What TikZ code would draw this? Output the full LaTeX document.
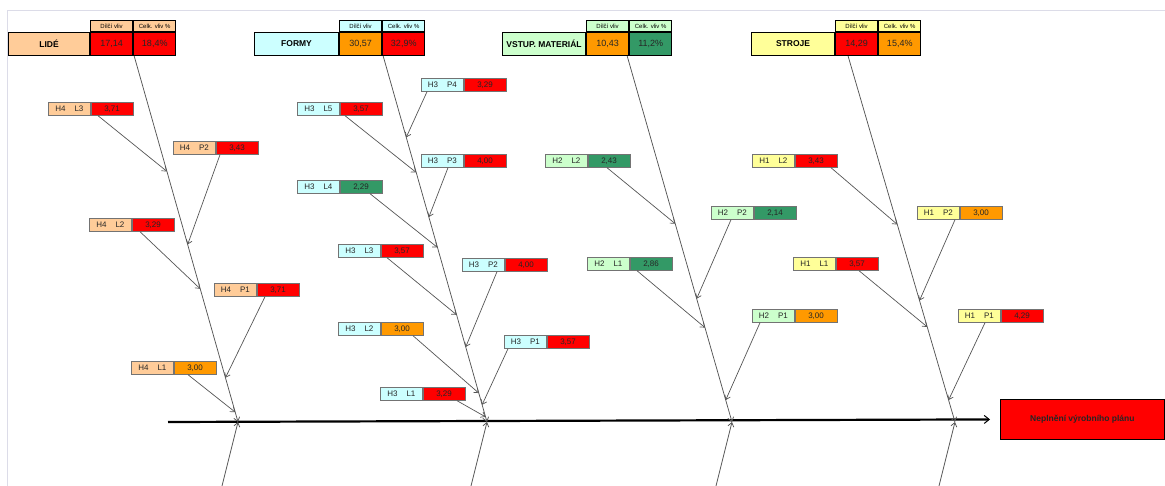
\documentclass[tikz,border=0pt]{standalone}
\usepackage{fontspec}
\setmainfont{Liberation Sans}
\usetikzlibrary{arrows.meta,calc}

\definecolor{peach}{HTML}{FFCC99}
\definecolor{aqua}{HTML}{CCFFFF}
\definecolor{mint}{HTML}{CCFFCC}
\definecolor{lemon}{HTML}{FFFF99}
\definecolor{hot}{HTML}{FF0000}
\definecolor{amber}{HTML}{FF9900}
\definecolor{sea}{HTML}{339966}
\definecolor{pageedge}{HTML}{DCDCE8}
\definecolor{bonegray}{HTML}{555555}

\tikzset{
  cell/.style={draw=black!55, line width=0.7pt, anchor=north west, inner sep=0pt,
    minimum width=42pt, minimum height=13pt, text=black!85,
    font=\fontsize{8}{9}\selectfont},
  namecell/.style={draw=black, line width=1.1pt, anchor=north west, inner sep=0pt,
    minimum height=23pt, font=\bfseries\fontsize{8.5}{9}\selectfont},
  valcell/.style={draw=black, line width=1.1pt, anchor=north west, inner sep=0pt,
    minimum width=42pt, minimum height=23pt, text=black!85,
    font=\fontsize{9}{10}\selectfont},
  capcell/.style={draw=black, line width=0.9pt, anchor=south west, inner sep=0pt,
    minimum width=42pt, minimum height=11pt, font=\fontsize{6}{7}\selectfont},
  bone/.style={draw=bonegray, line width=0.75pt, -{Straight Barb[length=4pt,width=6pt]}},
  branch/.style={draw=bonegray, line width=0.7pt, -{Straight Barb[length=4pt,width=6pt]}},
  spine/.style={draw=black, line width=2.2pt, -{Straight Barb[length=5pt,width=8pt,line width=1pt]}},
  effectbox/.style={draw=black, line width=0.8pt, fill=hot, inner sep=0pt,
    minimum width=164pt, minimum height=40pt, anchor=north west,
    font=\bfseries\fontsize{8.5}{9}\selectfont, text=black!85},
}

% one sub-cause: label cell and value cell side by side
\newcommand\causebox[8]{% id, x, y, H, L, value, label fill, value fill
  \node[cell, fill=#7] (#1a) at (#2,#3) {#4\hspace{9pt}#5};
  \node[cell, fill=#8] (#1b) at (#1a.north east) {#6};
}
% one main cause header: name, two captioned value cells
\newcommand\causehead[9]{% id, x, name width, name, fill, value1, fill1, value2, fill2
  \node[namecell, minimum width=#3pt, fill=#5] (#1n) at (#2,32) {#4};
  \node[valcell, fill=#7] (#1v) at (#1n.north east) {#6};
  \node[valcell, fill=#9] (#1w) at (#1v.north east) {#8};
  \node[capcell, fill=#5] (#1c) at (#1v.north west) {Dílčí vliv};
  \node[capcell, fill=#5] (#1d) at (#1w.north west) {Celk. vliv \%};
}

\begin{document}
\begin{tikzpicture}[x=1pt, y=-1pt]
\useasboundingbox (0,0) rectangle (1165,486);

% page edge
\draw[pageedge, line width=0.8pt] (7,486) -- (7,10) -- (1165,10);

% main cause headers
\causehead{lide}{8}{81}{LIDÉ}{peach}{17,14}{hot}{18,4\%}{hot}
\causehead{formy}{254}{84}{FORMY}{aqua}{30,57}{amber}{32,9\%}{hot}
\causehead{mat}{502}{83}{VSTUP. MATERIÁL}{mint}{10,43}{amber}{11,2\%}{sea}
\causehead{stroje}{751}{83}{STROJE}{lemon}{14,29}{hot}{15,4\%}{amber}

% effect
\node[effectbox] (effect) at (1000,399) {Neplnění výrobního plánu};

% spine and junctions
\coordinate (spineL) at (168,422);
\coordinate (jL) at (238,422);
\coordinate (jF) at (487,422);
\coordinate (jM) at (732,422);
\coordinate (jS) at (955,422);
\draw[spine, shorten >=10pt] (spineL) -- (effect.west);

% bone tops
\coordinate (tL) at ($(lidev.south east)+(1,0)$);
\coordinate (tF) at ($(formyv.south east)+(1,0)$);
\coordinate (tM) at ($(matv.south east)+(-2,0)$);
\coordinate (tS) at ($(strojev.south west)+(13,0)$);

% lower bone ends
\coordinate (uL) at (222,486);
\coordinate (uF) at (471,486);
\coordinate (uM) at (716,486);
\coordinate (uS) at (939,486);

\draw[bone] (tL) -- (jL);
\draw[bone] (tF) -- (jF);
\draw[bone] (tM) -- (jM);
\draw[bone] (tS) -- (jS);
\draw[bone] (uL) -- (jL);
\draw[bone] (uF) -- (jF);
\draw[bone] (uM) -- (jM);
\draw[bone] (uS) -- (jS);

% LIDÉ
\causebox{hLtri}{48}{102}{H4}{L3}{3,71}{peach}{hot}
\causebox{hPdva}{173}{141}{H4}{P2}{3,43}{peach}{hot}
\causebox{hLdva}{89}{218}{H4}{L2}{3,29}{peach}{hot}
\causebox{hPjed}{214}{283}{H4}{P1}{3,71}{peach}{hot}
\causebox{hLjed}{131}{361}{H4}{L1}{3,00}{peach}{amber}
\draw[branch] ($(hLtria.south west)+(50,0)$) -- ($(tL)!0.315!(jL)$);
\draw[branch] ($(hPdvaa.south west)+(47,0)$) -- ($(tL)!0.515!(jL)$);
\draw[branch] ($(hLdvaa.south west)+(51,0)$) -- ($(tL)!0.636!(jL)$);
\draw[branch] ($(hPjeda.south west)+(51,0)$) -- ($(tL)!0.879!(jL)$);
\draw[branch] ($(hLjeda.south west)+(57,0)$) -- ($(tL)!0.973!(jL)$);

% FORMY
\causebox{fPctyri}{421}{78}{H3}{P4}{3,29}{aqua}{hot}
\causebox{fLpet}{297}{102}{H3}{L5}{3,57}{aqua}{hot}
\causebox{fPtri}{421}{154}{H3}{P3}{4,00}{aqua}{hot}
\causebox{fLctyri}{297}{180}{H3}{L4}{2,29}{aqua}{sea}
\causebox{fLtri}{338}{244}{H3}{L3}{3,57}{aqua}{hot}
\causebox{fPdva}{462}{258}{H3}{P2}{4,00}{aqua}{hot}
\causebox{fLdva}{338}{322}{H3}{L2}{3,00}{aqua}{amber}
\causebox{fPjed}{504}{335}{H3}{P1}{3,57}{aqua}{hot}
\causebox{fLjed}{380}{387}{H3}{L1}{3,29}{aqua}{hot}
\draw[branch] ($(fPctyria.south west)+(6,0)$) -- ($(tF)!0.222!(jF)$);
\draw[branch] ($(fLpeta.south west)+(48,0)$) -- ($(tF)!0.318!(jF)$);
\draw[branch] ($(fPtria.south west)+(27,0)$) -- ($(tF)!0.44!(jF)$);
\draw[branch] ($(fLctyria.south west)+(73,0)$) -- ($(tF)!0.523!(jF)$);
\draw[branch] ($(fLtria.south west)+(49,0)$) -- ($(tF)!0.707!(jF)$);
\draw[branch] ($(fPdvaa.south west)+(35,0)$) -- ($(tF)!0.795!(jF)$);
\draw[branch] ($(fLdvaa.south west)+(75,0)$) -- ($(tF)!0.921!(jF)$);
\draw[branch] ($(fPjeda.south west)+(4,0)$) -- ($(tF)!0.953!(jF)$);
\draw[branch] ($(fLjeda.south west)+(77,0)$) -- ($(tF)!0.986!(jF)$);

% VSTUP. MATERIÁL
\causebox{mLdva}{545}{154}{H2}{L2}{2,43}{mint}{sea}
\causebox{mPdva}{711}{206}{H2}{P2}{2,14}{mint}{sea}
\causebox{mLjed}{587}{257}{H2}{L1}{2,86}{mint}{sea}
\causebox{mPjed}{752}{309}{H2}{P1}{3,00}{mint}{amber}
\draw[branch] ($(mLdvaa.south west)+(62,0)$) -- ($(tM)!0.458!(jM)$);
\draw[branch] ($(mPdvaa.south west)+(20,0)$) -- ($(tM)!0.663!(jM)$);
\draw[branch] ($(mLjeda.south west)+(50,0)$) -- ($(tM)!0.742!(jM)$);
\draw[branch] ($(mPjeda.south west)+(8,0)$) -- ($(tM)!0.94!(jM)$);

% STROJE
\causebox{sLdva}{752}{154}{H1}{L2}{3,43}{lemon}{hot}
\causebox{sPdva}{917}{206}{H1}{P2}{3,00}{lemon}{amber}
\causebox{sLjed}{793}{257}{H1}{L1}{3,57}{lemon}{hot}
\causebox{sPjed}{958}{309}{H1}{P1}{4,29}{lemon}{hot}
\draw[branch] ($(sLdvaa.south west)+(79,0)$) -- ($(tS)!0.46!(jS)$);
\draw[branch] ($(sPdvaa.south west)+(38,0)$) -- ($(tS)!0.668!(jS)$);
\draw[branch] ($(sLjeda.south west)+(66,0)$) -- ($(tS)!0.74!(jS)$);
\draw[branch] ($(sPjeda.south west)+(27,0)$) -- ($(tS)!0.94!(jS)$);
\end{tikzpicture}
\end{document}
